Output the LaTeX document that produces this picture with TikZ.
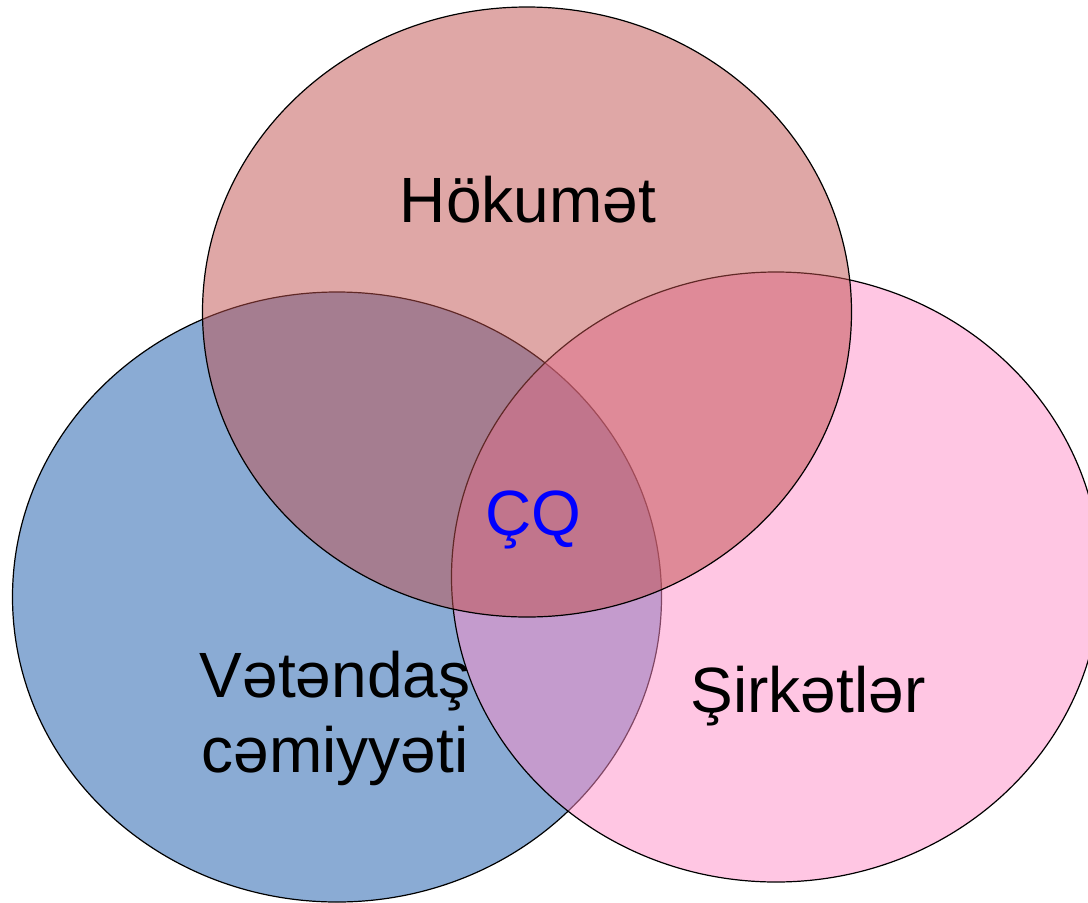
\documentclass[tikz,border=0pt]{standalone}
\usepackage{fontspec}
\setmainfont{Liberation Sans}
\usetikzlibrary{shapes.geometric}
\definecolor{setblue}{HTML}{8AABD4}
\definecolor{setpink}{HTML}{FF8DC8}
\definecolor{setred}{HTML}{C0504D}
\tikzstyle{area}=[ellipse,draw=black,line width=1.2pt,minimum width=649pt,minimum height=610pt,inner sep=0pt,outer sep=0pt]
\tikzstyle{txt}=[font=\fontsize{64pt}{75pt}\selectfont,align=center,inner sep=0pt]
\begin{document}
\begin{tikzpicture}[x=1pt,y=-1pt]
		\useasboundingbox (0,0) rectangle (1088,903);
		\node[area,fill=setblue] (civil) at (337,597) {};
		\node[area,fill=setpink,fill opacity=0.5] (firms) at (776,577) {};
		\node[area,fill=setred,fill opacity=0.5] (gov) at (527,312) {};
		\node[txt,anchor=base] (govname) at (528,222) {Hökumət};
		\node[txt,anchor=base,text=blue] (cq) at (533,535) {ÇQ};
		\node[txt] (civilname) at (335,718) {Vətəndaş\\cəmiyyəti};
		\node[txt,anchor=base] (firmsname) at (808,712) {Şirkətlər};
	\end{tikzpicture}
\end{document}
